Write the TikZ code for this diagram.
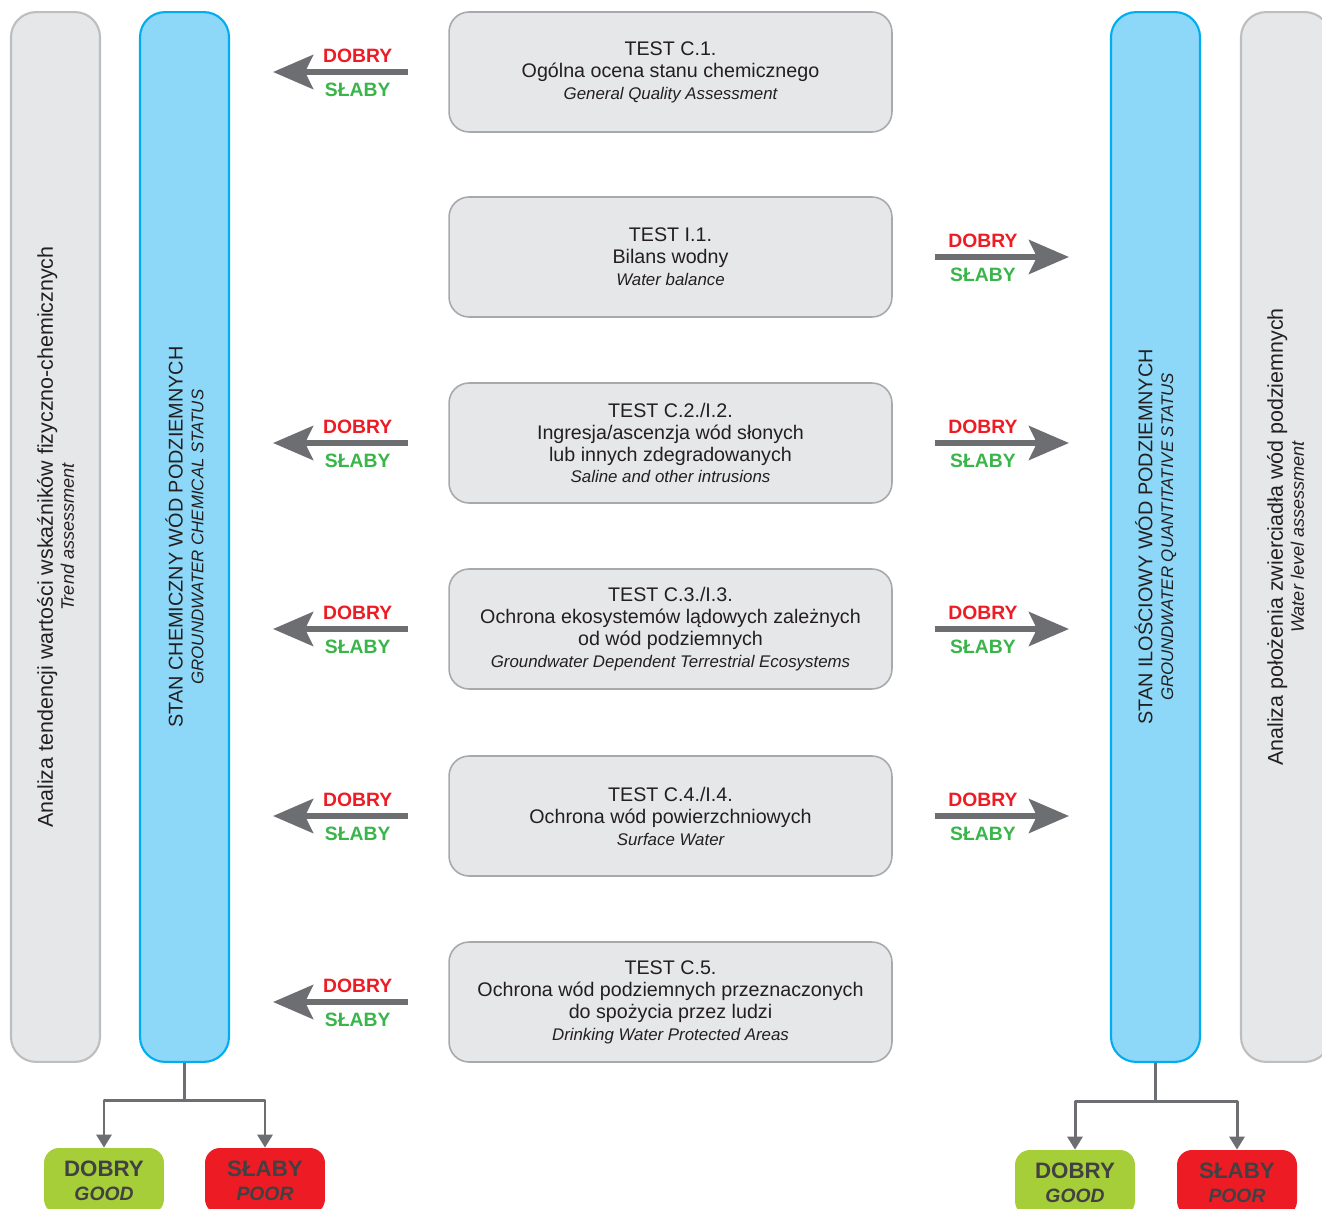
\documentclass[tikz,border=0pt]{standalone}
\usepackage{fontspec}
\setmainfont{Liberation Sans}
\usetikzlibrary{arrows.meta}

\definecolor{boxfill}{HTML}{E6E7E8}
\definecolor{boxline}{HTML}{A7A9AC}
\definecolor{barfill}{HTML}{8DD8F8}
\definecolor{barline}{HTML}{00AEEF}
\definecolor{sideline}{HTML}{BCBEC0}
\definecolor{arrowgray}{HTML}{6D6E71}
\definecolor{dobryred}{HTML}{ED1C24}
\definecolor{slabygreen}{HTML}{39B54A}
\definecolor{goodgreen}{HTML}{A6CE39}
\definecolor{txt}{HTML}{231F20}
\definecolor{btxt}{HTML}{414042}

\newcommand{\subit}{\fontsize{9.6}{11}\selectfont\itshape}
\newcommand{\sidesub}{\fontsize{10.3}{11}\selectfont\itshape}

\tikzset{
  testbox/.style={draw=boxline, fill=boxfill, line width=0.9pt, rounded corners=0.4cm,
    minimum width=8.86cm, minimum height=2.4cm, align=center, text=txt,
    font=\fontsize{11.2}{12.5}\selectfont},
  statusbar/.style={draw=barline, fill=barfill, line width=1.2pt, rounded corners=0.5cm,
    minimum width=1.78cm, minimum height=21cm},
  sidebar/.style={draw=sideline, fill=boxfill, line width=1.2pt, rounded corners=0.5cm,
    minimum width=1.78cm, minimum height=21cm},
  bartext/.style={rotate=90, align=center, text=txt, font=\fontsize{11.3}{11.8}\selectfont},
  sidetext/.style={rotate=90, align=center, text=txt, font=\fontsize{12.2}{12}\selectfont},
  bigarrow/.style={draw=arrowgray, line width=3.4pt,
    -{Stealth[length=0.8cm, width=0.68cm, inset=0.16cm]}},
  dobry/.style={text=dobryred, font=\fontsize{11}{12}\selectfont\bfseries, yshift=0.32cm},
  slaby/.style={text=slabygreen, font=\fontsize{11}{12}\selectfont\bfseries, yshift=-0.36cm},
  branch/.style={draw=arrowgray, line width=1.7pt},
  result/.style={rounded corners=0.3cm, minimum width=2.4cm, minimum height=1.32cm,
    align=center, text=btxt, font=\fontsize{12.7}{13.7}\selectfont\bfseries},
}

\begin{document}
\begin{tikzpicture}[x=0.02cm, y=-0.02cm, line join=round,
    >={Triangle[length=0.26cm, width=0.3cm]}]
\useasboundingbox (0,0) rectangle (1322,1209);
\clip (0,0) rectangle (1322,1209);

% bars
\node[sidebar] (trend) at (55.5,537) {};
\node[statusbar] (chem) at (184.5,537) {};
\node[statusbar] (ilosc) at (1155.5,537) {};
\node[sidebar] (level) at (1285.5,537) {};

\node[sidetext] (trendtxt) at (trend) {Analiza tendencji wartości wskaźników fizyczno-chemicznych\\{\sidesub Trend assessment}};
\node[bartext] (chemtxt) at (chem) {STAN CHEMICZNY WÓD PODZIEMNYCH\\{\subit GROUNDWATER CHEMICAL STATUS}};
\node[bartext] (ilosctxt) at (ilosc) {STAN ILOŚCIOWY WÓD PODZIEMNYCH\\{\subit GROUNDWATER QUANTITATIVE STATUS}};
\node[sidetext] (leveltxt) at (level) {Analiza położenia zwierciadła wód podziemnych\\{\sidesub Water level assessment}};

% tests
\node[testbox] (t1) at (670.5,72) {TEST C.1.\\Ogólna ocena stanu chemicznego\\{\subit General Quality Assessment}};
\node[testbox] (t2) at (670.5,257) {TEST I.1.\\Bilans wodny\\{\subit Water balance}};
\node[testbox] (t3) at (670.5,443) {TEST C.2./I.2.\\Ingresja/ascenzja wód słonych\\lub innych zdegradowanych\\{\subit Saline and other intrusions}};
\node[testbox] (t4) at (670.5,629) {TEST C.3./I.3.\\Ochrona ekosystemów lądowych zależnych\\od wód podziemnych\\{\subit Groundwater Dependent Terrestrial Ecosystems}};
\node[testbox] (t5) at (670.5,816) {TEST C.4./I.4.\\Ochrona wód powierzchniowych\\{\subit Surface Water}};
\node[testbox] (t6) at (670.5,1002) {TEST C.5.\\Ochrona wód podziemnych przeznaczonych\\do spożycia przez ludzi\\{\subit Drinking Water Protected Areas}};

% arrows to the chemical status
\foreach \t in {t1,t3,t4,t5,t6}
  \draw[bigarrow, shorten <=0.8cm, shorten >=0.86cm] (\t.west) -- (\t.west -| chem.east)
    node[dobry, pos=.415] (\t dl) {DOBRY}
    node[slaby, pos=.415] (\t sl) {SŁABY};

% arrows to the quantitative status
\foreach \t in {t2,t3,t4,t5}
  \draw[bigarrow, shorten <=0.84cm, shorten >=0.82cm] (\t.east) -- (\t.east -| ilosc.west)
    node[dobry, pos=.415] (\t dr) {DOBRY}
    node[slaby, pos=.415] (\t sr) {SŁABY};

% results
\node[result, fill=goodgreen] (goodL) at (104,1181) {DOBRY\\{\fontsize{11}{12}\selectfont\itshape GOOD}};
\node[result, fill=dobryred] (poorL) at (265,1181) {SŁABY\\{\fontsize{11}{12}\selectfont\itshape POOR}};
\node[result, fill=goodgreen] (goodR) at (1075,1183) {DOBRY\\{\fontsize{11}{12}\selectfont\itshape GOOD}};
\node[result, fill=dobryred] (poorR) at (1237,1183) {SŁABY\\{\fontsize{11}{12}\selectfont\itshape POOR}};

\coordinate (chemsplit) at (184.5,1100);
\coordinate (iloscsplit) at (1155.5,1101);
\draw[branch] (chem.south) -- (chemsplit);
\draw[branch, ->] (chemsplit) -| (goodL.north);
\draw[branch, ->] (chemsplit) -| (poorL.north);
\draw[branch] (ilosc.south) -- (iloscsplit);
\draw[branch, ->] (iloscsplit) -| (goodR.north);
\draw[branch, ->] (iloscsplit) -| (poorR.north);
\end{tikzpicture}
\end{document}
